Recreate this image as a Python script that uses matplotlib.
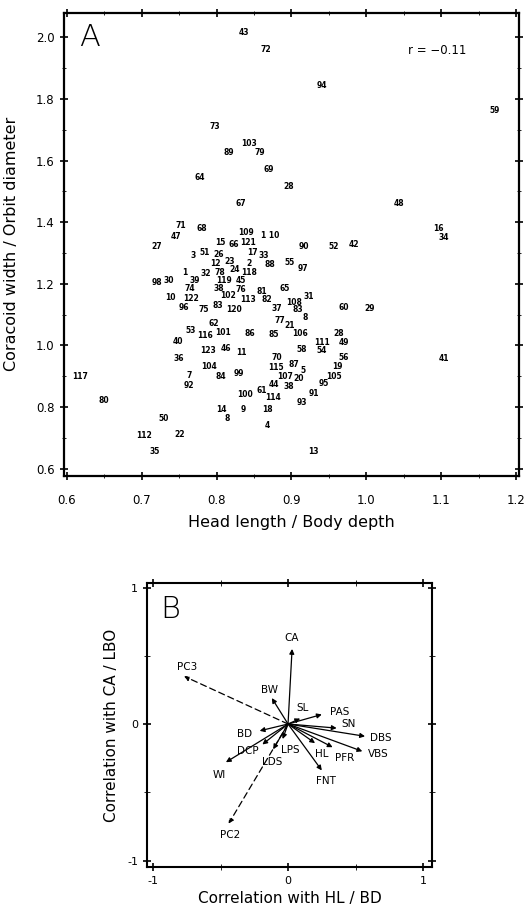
import matplotlib
matplotlib.use("Agg")
import matplotlib.pyplot as plt
from matplotlib.ticker import MultipleLocator

# Panel A: species numbers at (head length / body depth, coracoid width / orbit diameter)
sp_ids = ['43', '72', '94', '59', '73', '103', '89', '79', '69', '64', '28', '67', '48',
          '71', '68', '47', '109', '1 10', '16', '34', '27', '15', '66', '121', '90', '52', '42',
          '3', '51', '26', '17', '33', '12', '23', '2', '88', '55', '97',
          '1', '32', '78', '24', '118', '98', '30', '39', '119', '45',
          '74', '38', '76', '81', '65', '10', '122', '102', '113', '82', '108', '31',
          '96', '75', '83', '120', '37', '83', '60', '29', '8', '62', '77', '21',
          '53', '116', '101', '86', '85', '106', '28', '40', '111', '49',
          '123', '46', '11', '58', '54', '36', '70', '56', '41',
          '104', '115', '87', '5', '19', '117', '7', '84', '99', '107', '20', '105',
          '92', '44', '38', '95', '100', '61', '91', '114', '93', '80',
          '14', '9', '18', '8', '50', '4', '112', '22', '35', '13']
hl_bd = [0.837, 0.866, 0.940, 1.171, 0.798, 0.844, 0.816, 0.858, 0.870, 0.778, 0.897, 0.833, 1.043,
         0.752, 0.780, 0.746, 0.840, 0.871, 1.096, 1.103, 0.720, 0.805, 0.823, 0.842, 0.917, 0.956, 0.983,
         0.769, 0.784, 0.803, 0.848, 0.863, 0.798, 0.817, 0.844, 0.871, 0.898, 0.915,
         0.757, 0.785, 0.804, 0.824, 0.844, 0.720, 0.736, 0.771, 0.810, 0.832,
         0.764, 0.803, 0.833, 0.860, 0.891, 0.739, 0.766, 0.816, 0.842, 0.867, 0.903, 0.923,
         0.757, 0.783, 0.802, 0.823, 0.880, 0.908, 0.970, 1.005, 0.919, 0.796, 0.885, 0.898,
         0.766, 0.784, 0.809, 0.844, 0.876, 0.911, 0.963, 0.749, 0.941, 0.970,
         0.789, 0.813, 0.833, 0.914, 0.941, 0.749, 0.880, 0.970, 1.104,
         0.790, 0.880, 0.903, 0.916, 0.961, 0.618, 0.763, 0.806, 0.830, 0.891, 0.910, 0.957,
         0.763, 0.876, 0.897, 0.943, 0.838, 0.860, 0.930, 0.876, 0.914, 0.649,
         0.807, 0.836, 0.868, 0.814, 0.730, 0.868, 0.703, 0.751, 0.717, 0.929]
cw_od = [2.016, 1.960, 1.845, 1.763, 1.710, 1.656, 1.626, 1.626, 1.570, 1.545, 1.516, 1.461, 1.461,
         1.389, 1.381, 1.355, 1.366, 1.356, 1.381, 1.351, 1.321, 1.334, 1.326, 1.334, 1.322, 1.322, 1.328,
         1.291, 1.302, 1.295, 1.302, 1.291, 1.266, 1.271, 1.266, 1.262, 1.269, 1.251,
         1.238, 1.235, 1.238, 1.246, 1.238, 1.205, 1.211, 1.211, 1.211, 1.212,
         1.184, 1.184, 1.182, 1.175, 1.184, 1.156, 1.153, 1.162, 1.149, 1.149, 1.140, 1.159,
         1.124, 1.116, 1.129, 1.118, 1.121, 1.116, 1.124, 1.120, 1.089, 1.072, 1.080, 1.066,
         1.047, 1.033, 1.042, 1.038, 1.036, 1.038, 1.038, 1.014, 1.011, 1.011,
         0.982, 0.990, 0.978, 0.987, 0.984, 0.957, 0.960, 0.960, 0.958,
         0.930, 0.927, 0.938, 0.919, 0.930, 0.900, 0.902, 0.898, 0.909, 0.900, 0.894, 0.900,
         0.870, 0.872, 0.867, 0.875, 0.842, 0.853, 0.845, 0.831, 0.815, 0.820,
         0.793, 0.791, 0.791, 0.763, 0.763, 0.739, 0.707, 0.712, 0.656, 0.656]

# Panel B: correlation vectors
vec_names = ['CA', 'PC3', 'BW', 'SL', 'PAS', 'SN', 'DBS', 'VBS', 'PFR', 'HL', 'FNT',
             'LPS', 'LDS', 'DCP', 'BD', 'WI', 'PC2']
vec_x = [0.03, -0.77, -0.12, 0.09, 0.25, 0.36, 0.57, 0.55, 0.33, 0.20, 0.25,
         -0.04, -0.11, -0.19, -0.21, -0.46, -0.44]
vec_y = [0.55, 0.35, 0.19, 0.04, 0.07, -0.03, -0.09, -0.20, -0.17, -0.14, -0.34,
         -0.11, -0.185, -0.15, -0.05, -0.28, -0.73]
lab_x = [0.03, -0.75, -0.14, 0.11, 0.38, 0.45, 0.69, 0.67, 0.42, 0.25, 0.28,
         0.02, -0.12, -0.30, -0.32, -0.51, -0.43]
lab_y = [0.63, 0.42, 0.25, 0.115, 0.09, 0.0, -0.10, -0.22, -0.25, -0.22, -0.42,
         -0.19, -0.275, -0.20, -0.07, -0.37, -0.81]
dashed = ['PC3', 'PC2']

plt.rcParams['font.family'] = 'DejaVu Sans'
fig = plt.figure(figsize=(5.27, 9.13), dpi=100)

# ---- panel A
axA = fig.add_axes([0.121, 0.479, 0.864, 0.507])
for s, x, y in zip(sp_ids, hl_bd, cw_od):
    axA.text(x, y, s, ha='center', va='center', fontsize=5.5, fontweight='bold')
axA.set_xlim(0.596, 1.204)
axA.set_ylim(0.577, 2.08)
axA.xaxis.set_minor_locator(MultipleLocator(0.05))
axA.yaxis.set_minor_locator(MultipleLocator(0.1))
axA.set_xticks([0.6, 0.7, 0.8, 0.9, 1.0, 1.1, 1.2])
axA.set_xticklabels(['0.6', '0.7', '0.8', '0.9', '1.0', '1.1', '1.2'])
axA.set_yticks([0.6, 0.8, 1.0, 1.2, 1.4, 1.6, 1.8, 2.0])
axA.set_yticklabels(['0.6', '0.8', '1.0', '1.2', '1.4', '1.6', '1.8', '2.0'])
axA.tick_params(which='both', direction='inout', top=True, right=True, labelsize=8.5)
axA.tick_params(which='major', length=6, width=1.2)
axA.tick_params(which='minor', length=3)
axA.tick_params(axis='x', pad=10)
for sp in axA.spines.values():
    sp.set_linewidth(1.6)
axA.set_xlabel('Head length / Body depth', fontsize=11.5, labelpad=6)
axA.set_ylabel('Coracoid width / Orbit diameter', fontsize=11.5, labelpad=12)
axA.text(0.631, 2.0, 'A', fontsize=22, ha='center', va='center', fontweight='light')
axA.text(1.095, 1.958, 'r = \u22120.11', fontsize=8.5, ha='center', va='center')

# ---- panel B
axB = fig.add_axes([0.279, 0.050, 0.541, 0.311])
for n, x, y, lx, ly in zip(vec_names, vec_x, vec_y, lab_x, lab_y):
    ls = (0, (5, 3)) if n in dashed else '-'
    axB.annotate('', xy=(x, y), xytext=(0, 0),
                 arrowprops=dict(arrowstyle='-|>', color='black', lw=0.9,
                                 linestyle=ls, mutation_scale=7,
                                 shrinkA=0, shrinkB=0))
    axB.text(lx, ly, n, ha='center', va='center', fontsize=7.5)
axB.set_xlim(-1.044, 1.067)
axB.set_ylim(-1.05, 1.03)
axB.set_xticks([-1, 0, 1])
axB.set_yticks([-1, 0, 1])
axB.set_xticklabels(['-1', '0', '1'])
axB.set_yticklabels(['-1', '0', '1'])
axB.xaxis.set_minor_locator(MultipleLocator(0.5))
axB.yaxis.set_minor_locator(MultipleLocator(0.5))
axB.tick_params(which='both', direction='inout', top=True, right=True, labelsize=8)
axB.tick_params(which='major', length=6, width=1.2)
axB.tick_params(which='minor', length=4)
for sp in axB.spines.values():
    sp.set_linewidth(1.5)
axB.set_xlabel('Correlation with HL / BD', fontsize=11, labelpad=3)
axB.set_ylabel('Correlation with CA / LBO', fontsize=11, labelpad=6)
axB.text(-0.87, 0.84, 'B', fontsize=22, ha='center', va='center', fontweight='light')

fig.savefig('out.png', dpi=100)
